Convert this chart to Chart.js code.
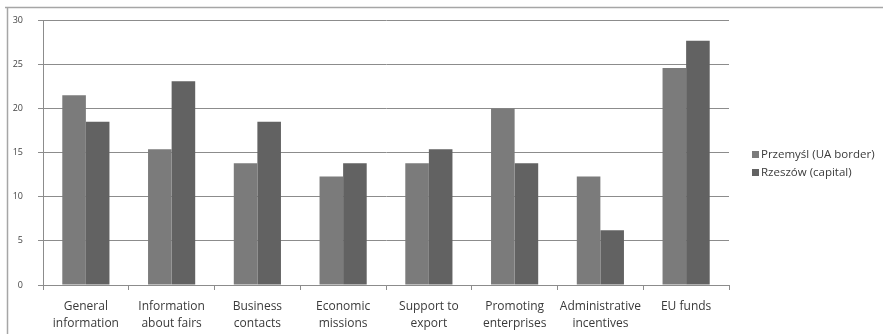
<!DOCTYPE html>
<html>
<head>
  <title>Expected forms of support</title>
  <script src="https://cdn.jsdelivr.net/npm/chart.js"></script>
  <style>
    body {
      margin: 0;
      padding: 0;
      background: #ffffff;
    }
    #wrap {
      position: relative;
      width: 883px;
      height: 334px;
    }
  </style>
  <script>
    // categories and series (percent of respondents)
    const categories = [
      ['General', 'information'],
      ['Information', 'about fairs'],
      ['Business', 'contacts'],
      ['Economic', 'missions'],
      ['Support to', 'export'],
      ['Promoting', 'enterprises'],
      ['Administrative', 'incentives'],
      ['EU funds']
    ];
    const seriesNames = ['Przemyśl (UA border)', 'Rzeszów (capital)'];
    const przemyslValues = [21.5, 15.4, 13.8, 12.3, 13.8, 20.0, 12.3, 24.6];
    const rzeszowValues = [18.5, 23.1, 18.5, 13.8, 15.4, 13.8, 6.2, 27.7];
    const yTicks = [0, 5, 10, 15, 20, 25, 30];

    const FONT = "'Open Sans', sans-serif";

    // frame of the chart box (top and left edges are visible)
    const framePlugin = {
      id: 'frame',
      beforeDraw(chart) {
        const c = chart.ctx;
        c.save();
        c.strokeStyle = '#a6a6a6';
        c.lineWidth = 1.5;
        c.beginPath();
        c.moveTo(5, 7.5);
        c.lineTo(883, 7.5);
        c.moveTo(7.5, 7);
        c.lineTo(7.5, 334);
        c.stroke();
        c.restore();
      }
    };

    // legend drawn to the right of the plot
    const sideLegend = {
      id: 'sideLegend',
      afterDraw(chart) {
        const c = chart.ctx;
        c.save();
        c.font = '11.5px ' + FONT;
        c.textBaseline = 'middle';
        chart.data.datasets.forEach((ds, i) => {
          const y = 155 + i * 18;
          c.fillStyle = ds.backgroundColor;
          c.fillRect(752, y - 4, 7, 7);
          c.fillStyle = '#3a3a3a';
          c.fillText(ds.label, 761, y);
        });
        c.restore();
      }
    };

    window.onload = () => {
      const ctx = document.getElementById('chart').getContext('2d');
      new Chart(ctx, {
        type: 'bar',
        data: {
          labels: categories,
          datasets: [{
            label: seriesNames[0],
            data: przemyslValues,
            backgroundColor: '#7b7b7b'
          }, {
            label: seriesNames[1],
            data: rzeszowValues,
            backgroundColor: '#626262'
          }]
        },
        options: {
          responsive: false,
          animation: false,
          layout: {
            padding: { left: 0, right: 154, top: 18, bottom: 0 }
          },
          datasets: {
            bar: {
              categoryPercentage: 0.55,
              barPercentage: 1.0
            }
          },
          scales: {
            x: {
              grid: {
                display: true,
                drawOnChartArea: false,
                color: '#8c8c8c',
                tickLength: 5
              },
              border: { color: '#8c8c8c', width: 1 },
              ticks: {
                color: '#3a3a3a',
                font: { family: FONT, size: 12, lineHeight: 1.42 },
                padding: 8,
                maxRotation: 0,
                autoSkip: false
              },
              afterFit(scale) { scale.height = 49; }
            },
            y: {
              min: 0,
              max: 30,
              afterBuildTicks(scale) {
                scale.ticks = yTicks.map(v => ({ value: v }));
              },
              grid: {
                color: '#8c8c8c',
                tickLength: 5
              },
              border: { color: '#8c8c8c', width: 1 },
              ticks: {
                color: '#444444',
                font: { family: FONT, size: 9 },
                padding: 15
              },
              afterFit(scale) { scale.width = 43; }
            }
          },
          plugins: {
            legend: { display: false },
            tooltip: { enabled: false }
          }
        },
        plugins: [framePlugin, sideLegend]
      });
    };
  </script>
</head>
<body>
  <div id="wrap">
    <canvas id="chart" width="883" height="334"></canvas>
  </div>
</body>
</html>
